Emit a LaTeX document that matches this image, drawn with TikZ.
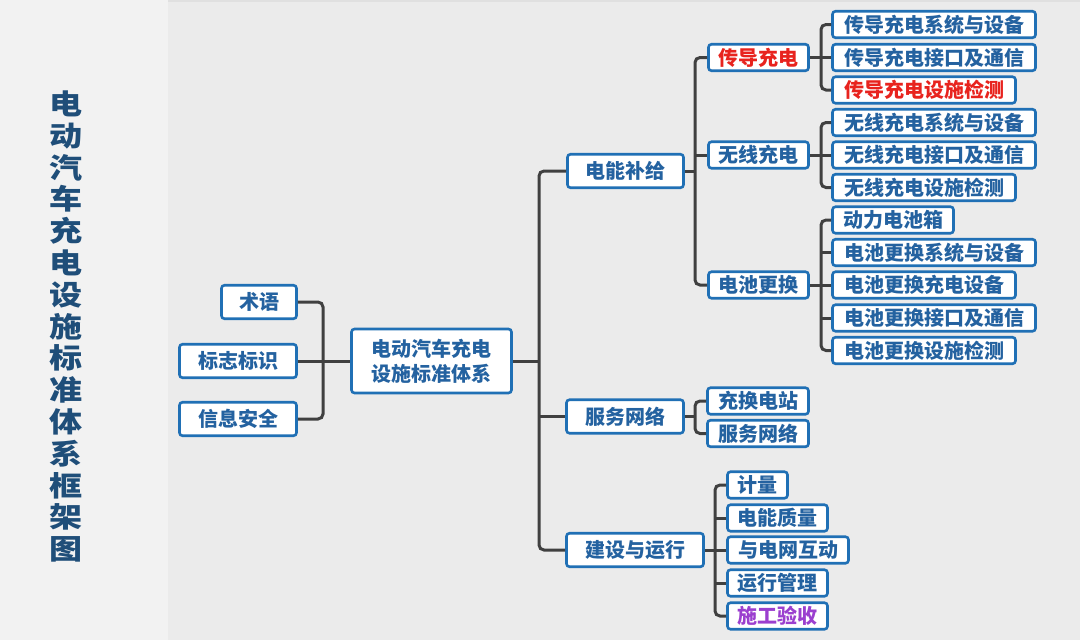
\documentclass[tikz,border=0pt]{standalone}
\usepackage{fontspec}
\usepackage{graphicx}
\newfontfamily\cjk{Noto Sans CJK SC}
\newcommand\tch[1]{\scalebox{1.18}[1]{#1}}
\definecolor{bgmain}{HTML}{EBEBEB}
\definecolor{bgleft}{HTML}{F2F2F2}
\definecolor{bordc}{HTML}{2070B5}
\definecolor{txtc}{HTML}{2462A0}
\definecolor{titlec}{HTML}{1F4E79}
\definecolor{linec}{HTML}{404040}
\definecolor{redc}{HTML}{E8231E}
\definecolor{purpc}{HTML}{9B3FCF}
\begin{document}
\begin{tikzpicture}[x=1pt,y=-1pt,
  box/.style={draw=bordc, line width=2.6pt, rounded corners=3pt, fill=white, text=txtc,
    font=\cjk\bfseries\fontsize{20}{22}\selectfont, inner sep=0pt},
  leaf/.style={box, minimum height=26.5pt},
  mid/.style={box, minimum height=33.5pt},
  conn/.style={draw=linec, line width=3pt, rounded corners=5pt},
  straight/.style={draw=linec, line width=3pt}]
\useasboundingbox (0,0) rectangle (1080,640);
\fill[bgmain] (0,0) rectangle (1080,640);
\fill[bgleft] (0,0) rectangle (168,640);
\fill[black!12] (168,0) rectangle (1080,2);

% title
\node[text=titlec, font=\cjk\bfseries\fontsize{28}{31.8}\selectfont, align=center, inner sep=0pt] (title) at (66,326.5)
  {\tch{电}\\\tch{动}\\\tch{汽}\\\tch{车}\\\tch{充}\\\tch{电}\\\tch{设}\\\tch{施}\\\tch{标}\\\tch{准}\\\tch{体}\\\tch{系}\\\tch{框}\\\tch{架}\\\tch{图}};

% left
\node[mid, minimum width=75pt] (t1) at (259,302) {术语};
\node[mid, minimum width=117pt] (t2) at (238,361) {标志标识};
\node[mid, minimum width=117pt] (t3) at (238,419) {信息安全};
\node[box, minimum width=160pt, minimum height=64pt, align=center,
  font=\cjk\bfseries\fontsize{20}{25}\selectfont] (root) at (431.5,361) {电动汽车充电\\设施标准体系};

% level 1
\node[mid, minimum width=116pt] (a) at (625.5,171) {电能补给};
\node[mid, minimum width=117pt] (b) at (625,416.5) {服务网络};
\node[mid, minimum width=137pt] (c) at (635,550) {建设与运行};

% level 2
\node[leaf, minimum width=100pt, text=redc] (a1) at (758.5,57.5) {传导充电};
\node[leaf, minimum width=100pt] (a2) at (758.5,155) {无线充电};
\node[leaf, minimum width=100pt] (a3) at (758.5,285) {电池更换};

% level 3
\node[leaf, minimum width=203pt] (a11) at (934,24.5) {传导充电系统与设备};
\node[leaf, minimum width=203pt] (a12) at (934,57.5) {传导充电接口及通信};
\node[leaf, minimum width=183pt, text=redc] (a13) at (924,90) {传导充电设施检测};
\node[leaf, minimum width=203pt] (a21) at (934,122.5) {无线充电系统与设备};
\node[leaf, minimum width=203pt] (a22) at (934,155) {无线充电接口及通信};
\node[leaf, minimum width=183pt] (a23) at (924,187.5) {无线充电设施检测};
\node[leaf, minimum width=121pt] (a31) at (893,220) {动力电池箱};
\node[leaf, minimum width=203pt] (a32) at (934,252.5) {电池更换系统与设备};
\node[leaf, minimum width=183pt] (a33) at (924,285) {电池更换充电设备};
\node[leaf, minimum width=203pt] (a34) at (934,318) {电池更换接口及通信};
\node[leaf, minimum width=183pt] (a35) at (924,350.5) {电池更换设施检测};

\node[leaf, minimum width=101pt] (b1) at (758,401) {充换电站};
\node[leaf, minimum width=101pt] (b2) at (758,433.5) {服务网络};

\node[leaf, minimum width=60pt] (c1) at (757.5,485) {计量};
\node[leaf, minimum width=100pt] (c2) at (777.5,518) {电能质量};
\node[leaf, minimum width=121pt] (c3) at (788,550) {与电网互动};
\node[leaf, minimum width=100pt] (c4) at (777.5,583) {运行管理};
\node[leaf, minimum width=100pt, text=purpc] (c5) at (777.5,616) {施工验收};

% connectors left
\draw[conn] (t1.east) -- (323,302) -- (323,419) -- (t3.east);
\draw[straight] (t2.east) -- (root.west);
% root to level 1
\draw[conn] (a.west) -- (539,171) -- (539,550) -- (c.west);
\draw[straight] (root.east) -- (539,361);
\draw[straight] (539,416.5) -- (b.west);
% a to level 2
\draw[conn] (a1.west) -- (695,57.5) -- (695,285) -- (a3.west);
\draw[straight] (a.east) -- (695,171);
\draw[straight] (695,155) -- (a2.west);
% a1
\draw[conn] (a11.west) -- (821,24.5) -- (821,90) -- (a13.west);
\draw[straight] (a1.east) -- (a12.west);
% a2
\draw[conn] (a21.west) -- (821,122.5) -- (821,187.5) -- (a23.west);
\draw[straight] (a2.east) -- (a22.west);
% a3
\draw[conn] (a31.west) -- (821,220) -- (821,350.5) -- (a35.west);
\draw[straight] (a3.east) -- (a33.west);
\draw[straight] (821,252.5) -- (a32.west);
\draw[straight] (821,318) -- (a34.west);
% b
\draw[conn] (b1.west) -- (695,401) -- (695,433.5) -- (b2.west);
\draw[straight] (b.east) -- (695,416.5);
% c
\draw[conn] (c1.west) -- (715,485) -- (715,616) -- (c5.west);
\draw[straight] (c.east) -- (c3.west);
\draw[straight] (715,518) -- (c2.west);
\draw[straight] (715,583) -- (c4.west);
\end{tikzpicture}
\end{document}
